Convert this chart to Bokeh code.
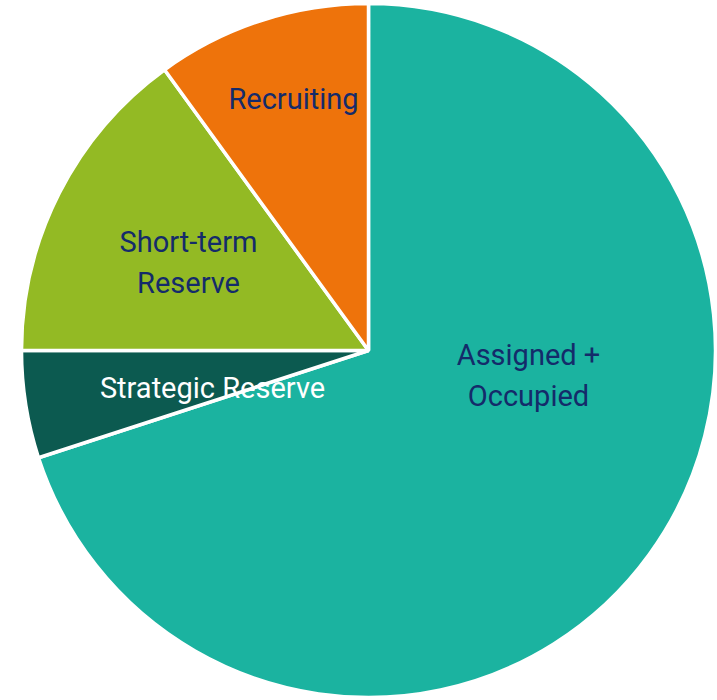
import numpy as np
from bokeh.plotting import figure
from bokeh.models import ColumnDataSource, Range1d
from bokeh.core.properties import value
from bokeh.embed import file_html
from bokeh.resources import INLINE

# ---- data ----
categories = ["Assigned + Occupied", "Strategic Reserve", "Short-term Reserve", "Recruiting"]
shares = [70, 5, 15, 10]
colors = ["#1BB3A0", "#0C5A50", "#93BA24", "#EE730B"]

label_texts = ["Assigned +\nOccupied", "Strategic Reserve", "Short-term\nReserve", "Recruiting"]
label_colors = ["#142B6A", "#FFFFFF", "#142B6A", "#142B6A"]
# label anchor offsets from pie centre (px, y up)
label_x = [160, -156, -180, -75]
label_y = [-25, -37, 88, 252]

# ---- geometry ----
R = 347
W, H = 717, 700
cx_px, cy_px = 368, 350

vals = np.array(shares, dtype=float)
frac = vals / vals.sum()
cum = np.concatenate([[0], np.cumsum(frac)])
start = np.pi / 2 - cum[:-1] * 2 * np.pi
end = np.pi / 2 - cum[1:] * 2 * np.pi

src = ColumnDataSource(dict(cat=categories, start=start, end=end, color=colors))

p = figure(width=W, height=H, output_backend="svg", toolbar_location=None,
           x_range=Range1d(-cx_px, W - cx_px), y_range=Range1d(-(H - cy_px), cy_px),
           min_border=0, tools="")
p.axis.visible = False
p.grid.visible = False
p.outline_line_color = None
p.background_fill_color = "white"
p.border_fill_color = "white"

p.wedge(x=0, y=0, radius=R, radius_units="data", start_angle="start", end_angle="end",
        direction="clock", fill_color="color", line_color="white", line_width=3.5, source=src)

lsrc = ColumnDataSource(dict(x=label_x, y=label_y, text=label_texts, color=label_colors))
p.text(x="x", y="y", text="text", text_color="color", source=lsrc,
       text_font=value("Roboto"), text_font_size="29px", text_align="center",
       text_baseline="middle", text_line_height=1.2)

open("out.html", "w").write(file_html(p, INLINE))
